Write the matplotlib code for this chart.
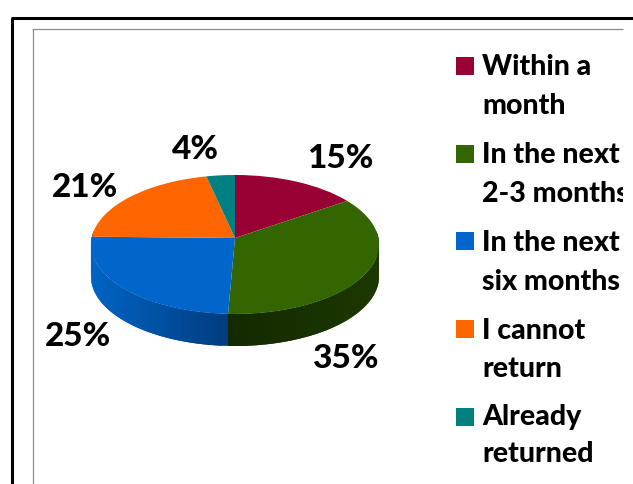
import numpy as np
import matplotlib
matplotlib.use("Agg")
import matplotlib.pyplot as plt
from matplotlib.patches import Rectangle, Polygon
from matplotlib.transforms import Transform

W, H = 633, 484
categories = ["Within a\nmonth", "In the next\n2-3 months", "In the next\nsix months", "I cannot\nreturn", "Already\nreturned"]
shares = [15.4, 35.3, 24.6, 21.2, 3.5]
pct_labels = ["15%", "35%", "25%", "21%", "4%"]
colors = ["#990033", "#336600", "#0066CC", "#FF6600", "#008080"]
side_light = ["#660022", "#1C3800", "#0064C4", "#B84800", "#005858"]
side_dark = ["#660022", "#142A00", "#003A7C", "#B84800", "#005858"]

CX, CY = 235.0, 238.0
A, B, K = 68.9, 143.4, 0.0934
DEPTH = 32.0


def project(x, y):
    d = 1 + K * y
    return CX + B * x / d, CY - A * y / d


class Perspective(Transform):
    input_dims = output_dims = 2
    is_affine = False
    has_inverse = False

    def transform_non_affine(self, values):
        v = np.asarray(values, dtype=float)
        px, py = project(v[:, 0], v[:, 1])
        return np.column_stack([px, py])


fig = plt.figure(figsize=(W / 100, H / 100), dpi=100, facecolor="white")
ax = fig.add_axes([0, 0, 1, 1])

wedges, _ = ax.pie(shares, colors=colors, startangle=90, counterclock=False,
                   wedgeprops=dict(linewidth=0))
ax.set_aspect("auto")
ax.set_xlim(0, W)
ax.set_ylim(H, 0)
ax.axis("off")
persp = Perspective()
for w in wedges:
    w.set_transform(persp + ax.transData)
    w.set_zorder(3)

# Extruded side wall: only the two front slices show it
edges = np.concatenate([[0], np.cumsum(shares)]) / sum(shares) * 360
for i in (1, 2):
    lo, hi = max(edges[i], 84.0), (edges[i + 1] if i == 1 else 276.0)
    for t0 in np.arange(lo, hi, 2.0):
        t_end = min(t0 + 4.0, hi)
        ts = np.radians(np.linspace(t0, t_end, 8))
        x, y = project(np.sin(ts), np.cos(ts))
        f = np.clip(abs(project(np.sin(np.radians(t0 + 1)), np.cos(np.radians(t0 + 1)))[0] - CX) / 144, 0, 1)
        c0 = np.array(matplotlib.colors.to_rgb(side_dark[i]))
        c1 = np.array(matplotlib.colors.to_rgb(side_light[i]))
        col = c0 + (c1 - c0) * f
        pts = np.column_stack([np.r_[x, x[::-1]], np.r_[y, y[::-1] + DEPTH]])
        ax.add_patch(Polygon(pts, closed=True, facecolor=col, edgecolor="none", lw=0, zorder=2))

# Percent labels
label_xy = [(340, 168.5), (345, 368), (78, 346.5), (85, 197), (195, 159)]
for txt, (lx, ly) in zip(pct_labels, label_xy):
    ax.text(lx, ly, txt, ha="center", va="baseline", fontsize=24, fontweight=900,
            family="Lato", color="black", zorder=5)

# Legend
clip = Rectangle((0, 0), 622.5, H, transform=ax.transData)
swatch_top = [57, 145, 232, 320, 408]
line_base = [(75, 114), (163, 202), (251, 290), (339, 377), (425.5, 461.5)]
for txt, col, top, bases in zip(categories, colors, swatch_top, line_base):
    ax.add_patch(Rectangle((456, top), 18, 18, facecolor=col, edgecolor="none", zorder=5))
    for part, by in zip(txt.split("\n"), bases):
        t = ax.text(482, by, part, ha="left", va="baseline", fontsize=20.5,
                    fontweight=900, family="Lato", color="black", zorder=5)
        t.set_clip_on(True)
        t.set_clip_path(clip)

# Frames
ax.plot([12, 12], [H, 18], color="black", lw=2.2, solid_capstyle="butt", zorder=6, clip_on=False)
ax.plot([11, W], [18, 18], color="black", lw=2.2, solid_capstyle="butt", zorder=6, clip_on=False)
ax.plot([32.5, 32.5], [H, 28.5], color="#8c8c8c", lw=0.9, solid_capstyle="butt", zorder=6)
ax.plot([32, 623], [28.5, 28.5], color="#8c8c8c", lw=0.9, solid_capstyle="butt", zorder=6)

fig.savefig("out.png", dpi=100, facecolor="white")
